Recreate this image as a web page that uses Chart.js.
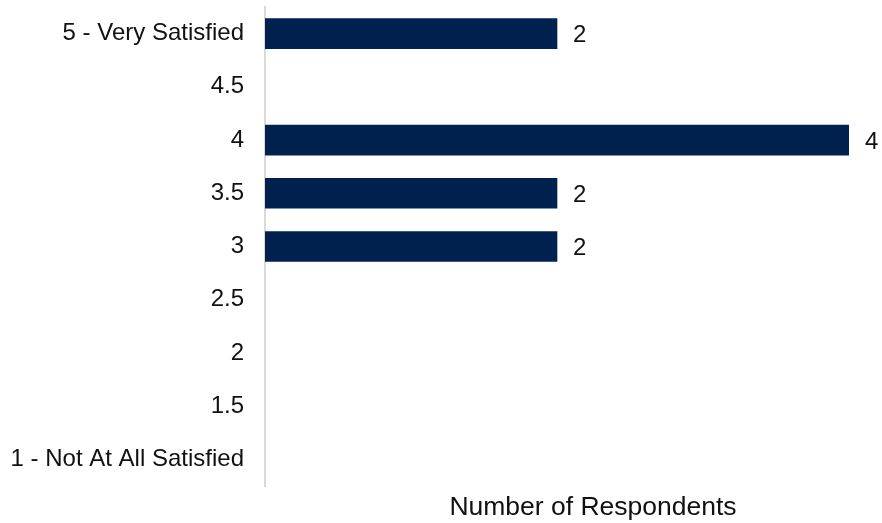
<!DOCTYPE html>
<html>
<head>
<meta charset="utf-8">
<script src="https://cdn.jsdelivr.net/npm/chart.js@4.4.1/dist/chart.umd.min.js"></script>
<style>
  html, body { margin: 0; padding: 0; background: #fff; }
  #wrap { width: 882px; height: 523px; }
</style>
</head>
<body>
<div id="wrap"><canvas id="satChart"></canvas></div>
<script>
const categories = [
  "5 - Very Satisfied",
  "4.5",
  "4",
  "3.5",
  "3",
  "2.5",
  "2",
  "1.5",
  "1 - Not At All Satisfied",
];
const respondents = [2, 0, 4, 2, 2, 0, 0, 0, 0];
const axisTitle = "Number of Respondents";

const textColor = "#111111";
const fontFamily = "'Liberation Sans', Arial, sans-serif";

// value labels to the right of each bar
const barLabels = {
  id: "barLabels",
  afterDatasetsDraw(chart) {
    const ctx = chart.ctx;
    const meta = chart.getDatasetMeta(0);
    ctx.save();
    ctx.font = "24px " + fontFamily;
    ctx.fillStyle = textColor;
    ctx.textAlign = "left";
    ctx.textBaseline = "middle";
    meta.data.forEach((bar, i) => {
      const v = respondents[i];
      if (!v) return;
      ctx.fillText(String(v), bar.x + 16, bar.y + 2);
    });
    ctx.restore();
  },
};

// axis title sits a bit right of the plot centre
const xTitle = {
  id: "xTitle",
  afterDraw(chart) {
    const ctx = chart.ctx;
    const area = chart.chartArea;
    ctx.save();
    ctx.font = "26.5px " + fontFamily;
    ctx.fillStyle = textColor;
    ctx.textAlign = "center";
    ctx.textBaseline = "middle";
    ctx.fillText(axisTitle, (area.left + area.right) / 2 + 36, area.bottom + 22);
    ctx.restore();
  },
};

document.addEventListener("DOMContentLoaded", () => {
  const ctx = document.getElementById("satChart").getContext("2d");

  new Chart(ctx, {
    type: "bar",
    data: {
      labels: categories,
      datasets: [
        {
          label: axisTitle,
          data: respondents.map((v) => (v === 0 ? null : v)),
          backgroundColor: "#00214e",
          borderWidth: 0,
          barThickness: 30,
        },
      ],
    },
    options: {
      indexAxis: "y",
      responsive: true,
      maintainAspectRatio: false,
      animation: false,
      layout: { padding: { top: 7, right: 33, bottom: 0, left: 0 } },
      plugins: {
        legend: { display: false },
        tooltip: { enabled: false },
      },
      scales: {
        x: {
          min: 0,
          max: 4,
          grid: { display: false, drawTicks: false },
          border: { display: false },
          ticks: { display: false },
          afterFit(scale) {
            scale.height = 37;
            scale.paddingLeft = 0;
            scale.paddingRight = 0;
          },
        },
        y: {
          grid: {
            display: true,
            drawOnChartArea: false,
            drawTicks: true,
            tickLength: 21,
            color: "rgba(0,0,0,0)",
          },
          border: { display: true, color: "#d9d9d9", width: 2 },
          ticks: {
            color: textColor,
            padding: 0,
            font: { family: fontFamily, size: 24 },
          },
          afterFit(scale) {
            scale.width = 265;
            scale.paddingTop = 0;
            scale.paddingBottom = 0;
          },
        },
      },
    },
    plugins: [barLabels, xTitle],
  });
});
</script>
</body>
</html>
